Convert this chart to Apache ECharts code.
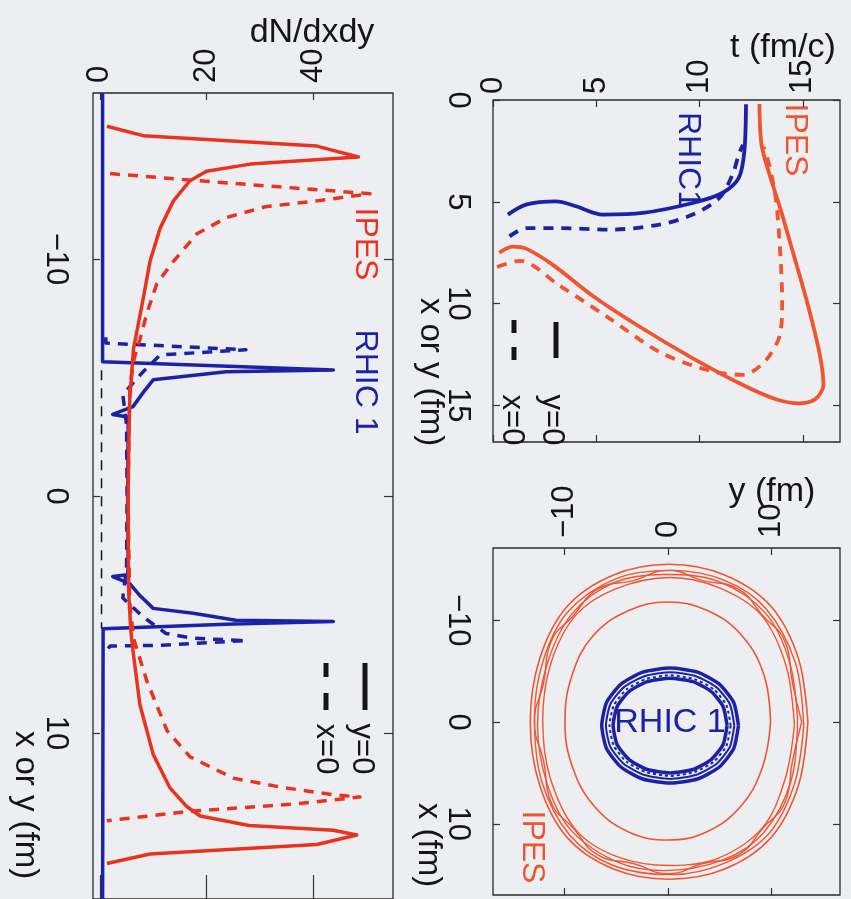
<!DOCTYPE html>
<html><head><meta charset="utf-8">
<script src="https://cdn.jsdelivr.net/npm/echarts@6/dist/echarts.min.js"></script>
<style>html,body{margin:0;padding:0;background:#eceef1;}#c{width:851px;height:899px;}</style>
</head><body><div id="c"></div>
<script>
// ---------- Panel A: dN/dxdy vs x or y ----------
var dnTicks = [0, 20, 40];
var posTicksA = [-10, 0, 10];
var ipesY0Pos = [-15.6, -15.2, -14.76, -14.3, -14.0, -13.7, -13.3, -12.45, -11.3, -9.9, -8.3, -6.9, -6.2, -4.1, -2.0, 0, 2.0, 4.1, 5.7, 6.7, 8.8, 10.9, 12.3, 13.1, 13.5, 13.9, 14.1, 14.3, 14.7, 15.1, 15.5];
var ipesY0DN  = [1.3, 8.1, 40.7, 48.5, 28.2, 20, 16.9, 13.8, 11.3, 9.4, 8.1, 6.9, 6.3, 5.6, 5.4, 5.3, 5.3, 5.4, 5.8, 6.3, 7.5, 10, 13.1, 16.3, 18.8, 28, 43.8, 48.2, 40.7, 9.4, 1.3];
var ipesX0Pos = [-13.6, -13.3, -12.75, -12.45, -12.2, -11.75, -11.06, -9.9, -8.97, -7.7, -6.6, -5.7, -4.5, -2.0, 0, 2.0, 4.5, 6.0, 7.8, 9.9, 11.0, 11.9, 12.3, 12.6, 12.7, 13.0, 13.3, 13.7];
var ipesX0DN  = [1.9, 18.5, 50.7, 40.7, 31, 23.8, 18.2, 13.8, 10.7, 8.8, 7.5, 6.3, 5.6, 5.4, 5.3, 5.4, 5.6, 6.3, 8.8, 12.6, 16.9, 25, 34.4, 43.8, 48.8, 36.3, 16.9, 1.3];
var rhicY0Pos = [-17, -5.66, -5.32, -5.24, -4.9, -4.36, -3.77, -3.44, -3.33, -3.0, 0, 3.0, 3.32, 3.4, 3.7, 4.2, 4.74, 4.95, 5.24, 5.29, 5.4, 5.6, 17];
var rhicY0DN  = [0.5, 0.5, 43.8, 23.7, 10, 8.1, 6.2, 2.4, 5.2, 5.3, 5.2, 5.3, 5.2, 2.4, 5.6, 7.5, 10, 17.5, 25.5, 43.8, 25, 0.6, 0.5];
var rhicX0Pos = [-6.7, -6.45, -6.17, -5.95, -5.24, -4.28, -3.0, 0, 3.0, 4.3, 5.1, 5.8, 6.0, 6.1, 6.3, 6.33, 6.7];
var rhicX0DN  = [1.1, 1.1, 27.4, 11.3, 8.1, 4.3, 5.0, 5.1, 5.0, 4.3, 8.1, 12.4, 17.5, 27.4, 11.3, 1.9, 0.6];
var refPos = [-5.3, 5.6];
var refDN  = [0.3, 0.3];

// ---------- Panel B: t vs x or y ----------
var tTicks = [0, 5, 10, 15];
var posTicksB = [0, 5, 10, 15];
var bIpesY0T   = [0.3, 0.95, 1.6, 2.9, 4.8, 7.2, 9.7, 12.1, 13.7, 14.8, 15.6, 16.0, 15.8, 15.2, 14.5, 13.9, 13.4, 13.0, 12.9];
var bIpesY0Pos = [7.5, 7.2, 7.3, 8.1, 9.6, 11.2, 12.7, 14.0, 14.7, 14.9, 14.7, 14.0, 12.4, 9.9, 7.4, 5.3, 3.7, 2.2, 0.2];
var bIpesX0T   = [0.2, 1.3, 3.2, 5.6, 8.1, 10.5, 12.1, 13.2, 13.9, 14.0, 13.9, 13.7, 13.4, 13.1];
var bIpesX0Pos = [8.2, 7.9, 9.1, 10.7, 12.4, 13.3, 13.5, 12.8, 11.5, 9.9, 7.4, 4.9, 3.3, 2.3];
var bRhicY0T   = [0.72, 1.6, 3.06, 4.02, 5.31, 7.25, 9.67, 11.1, 11.9, 12.17, 12.25];
var bRhicY0Pos = [5.63, 5.14, 4.98, 5.22, 5.63, 5.55, 5.06, 4.57, 3.83, 2.51, 0.21];
var bRhicX0T   = [0.8, 1.6, 3.2, 5.64, 8.06, 9.67, 10.96, 11.6, 11.9, 12.1];
var bRhicX0Pos = [6.7, 6.29, 6.29, 6.37, 6.12, 5.63, 4.81, 3.66, 2.68, 2.2];

// ---------- Panel C: contours, points as [y, x] ----------
var yTicksC = [-10, 0, 10];
var xTicksC = [-10, 0, 10];
var ipesRing1 = [[13.5,0],[12.6,6.2],[9.95,11.35],[5.46,14.45],[0.1,15.45],[-5.26,14.45],[-9.75,11.35],[-12.4,6.2],[-13.3,0],[-12.4,-6.2],[-9.75,-11.35],[-5.26,-14.45],[0.1,-15.5],[5.46,-14.45],[9.95,-11.35],[12.6,-6.2]];
var ipesRing2 = [[13.1,0.4],[12.2,6.1],[9.7,11.0],[5.4,13.9],[0.4,15.0],[-5.3,14.1],[-9.5,11.1],[-12.2,5.8],[-12.9,-0.5],[-12.0,-6.2],[-9.6,-10.9],[-5.0,-14.1],[0.4,-14.9],[5.5,-13.9],[9.4,-11.2],[12.3,-5.8]];
var ipesRing3 = [[12.5,-0.3],[11.9,5.7],[9.2,10.9],[5.2,13.6],[-0.4,14.6],[-4.8,13.8],[-9.4,10.6],[-11.7,6.0],[-12.6,0.3],[-11.7,-5.6],[-9.3,-10.6],[-5.2,-13.7],[-0.3,-14.5],[4.9,-13.8],[9.4,-10.7],[11.7,-6.0]];
var ipesRing4 = [[12.2,0.3],[11.3,5.6],[9.1,10.4],[4.8,13.4],[0.2,14.1],[-5.0,13.2],[-8.9,10.6],[-11.4,5.4],[-12.1,-0.2],[-11.3,-5.8],[-8.9,-10.5],[-5.0,-13.1],[0.2,-14.2],[4.9,-13.2],[9.0,-10.5],[11.4,-5.5]];
var ipesWavy  = [[12.9,0],[12.0,3.9],[11.35,7.75],[9.1,10.5],[6.7,13.1],[3.35,13.9],[0,14.9],[-3.35,13.9],[-6.7,13.1],[-9.1,10.5],[-11.35,7.75],[-12.0,3.9],[-12.9,0],[-12.0,-3.9],[-11.35,-7.75],[-9.1,-10.5],[-6.7,-13.1],[-3.35,-13.9],[0,-14.9],[3.35,-13.9],[6.7,-13.1],[9.1,-10.5],[11.35,-7.75],[12.0,-3.9]];
var ipesRing5 = [[9.9,0],[9.1,4.5],[7.0,8.3],[3.7,10.8],[0,11.6],[-3.8,10.8],[-7.1,8.3],[-9.2,4.5],[-9.95,0],[-9.3,-4.5],[-7.3,-8.4],[-3.9,-10.9],[0,-11.8],[3.9,-10.9],[7.2,-8.4],[9.3,-4.5]];
var rhicRing1 = [[6.8,0.35],[6.34,2.61],[4.95,4.42],[2.84,5.6],[0.2,6.0],[-2.44,5.6],[-4.55,4.42],[-5.94,2.61],[-6.4,0.35],[-5.94,-1.91],[-4.55,-3.72],[-2.44,-4.9],[0.2,-5.3],[2.84,-4.9],[4.95,-3.72],[6.34,-1.91]];
var rhicRing2 = [[6.4,0.35],[5.97,2.45],[4.66,4.13],[2.68,5.2],[0.2,5.6],[-2.28,5.2],[-4.26,4.13],[-5.57,2.45],[-6.0,0.35],[-5.57,-1.75],[-4.26,-3.43],[-2.28,-4.5],[0.2,-4.9],[2.68,-4.5],[4.66,-3.43],[5.97,-1.75]];
var rhicRing3 = [[6.05,0.35],[5.64,2.33],[4.41,3.91],[2.54,4.92],[0.2,5.3],[-2.14,4.92],[-4.01,3.91],[-5.24,2.33],[-5.65,0.35],[-5.24,-1.63],[-4.01,-3.21],[-2.14,-4.22],[0.2,-4.6],[2.54,-4.22],[4.41,-3.21],[5.64,-1.63]];
var rhicRing4 = [[5.7,0.35],[5.32,2.21],[4.16,3.7],[2.4,4.67],[0.2,5.0],[-2.0,4.67],[-3.76,3.7],[-4.92,2.21],[-5.3,0.35],[-4.92,-1.51],[-3.76,-3.0],[-2.0,-3.97],[0.2,-4.3],[2.4,-3.97],[4.16,-3.0],[5.32,-1.51]];

// ---------- styling ----------
var FONT = '"Liberation Sans", Arial, Helvetica, sans-serif';
var RED_A = '#e8331f', RED_B = '#ef5530', BLUE = '#1b22a6', INK = '#151515';
function zip(a, b) { return a.map(function (v, i) { return [v, b[i]]; }); }
function closed(r) { return r.concat([r[0]]); }
function minus(v) { return String(v).replace('-', '\u2212'); }

function axis(grid, position, min, max, ticks, showLabel, tickLen, inverse, margin) {
  return {
    type: 'value', gridIndex: grid, position: position, min: min, max: max, inverse: !!inverse,
    axisLine: { show: false, onZero: false }, splitLine: { show: false },
    axisTick: { show: true, inside: true, length: tickLen, customValues: ticks, lineStyle: { color: '#333', width: 1.2 } },
    axisLabel: { show: showLabel, customValues: ticks, rotate: -90, margin: margin || 8, fontSize: 31, color: INK, fontFamily: FONT, formatter: minus }
  };
}
function line(xi, yi, data, color, width, dash, smooth) {
  return { type: 'line', xAxisIndex: xi, yAxisIndex: yi, data: data, showSymbol: false, symbol: 'none', smooth: smooth || false,
    silent: true, animation: false,
    lineStyle: { color: color, width: width, type: dash || 'solid', cap: 'butt', join: 'round' } };
}
function rtext(x, y, s, color, size, rot) {
  return { type: 'text', x: x, y: y, rotation: rot === undefined ? -Math.PI / 2 : rot, silent: true,
    style: { text: s, fill: color, font: size + 'px ' + FONT, textAlign: 'center', textVerticalAlign: 'middle' } };
}
function seg(x1, y1, x2, y2) {
  return { type: 'line', silent: true, shape: { x1: x1, y1: y1, x2: x2, y2: y2 },
    style: { stroke: INK, lineWidth: 5 } };
}

var DASH = [10, 8];
var chart = echarts.init(document.getElementById('c'), null, { renderer: 'canvas' });
var gridStyle = { show: true, borderColor: '#2a2a2a', borderWidth: 1.3, backgroundColor: 'transparent', containLabel: false };
var series = [
  line(0, 0, zip(refDN, refPos), INK, 1.5, DASH),
  line(0, 0, zip(rhicY0DN, rhicY0Pos), BLUE, 3.5),
  line(0, 0, zip(rhicX0DN, rhicX0Pos), BLUE, 3.5, DASH),
  line(0, 0, zip(ipesY0DN, ipesY0Pos), RED_A, 3.5),
  line(0, 0, zip(ipesX0DN, ipesX0Pos), RED_A, 3.5, DASH),
  line(2, 2, zip(bIpesY0T, bIpesY0Pos), RED_B, 3.8, null, 0.3),
  line(2, 2, zip(bIpesX0T, bIpesX0Pos), RED_B, 3.8, DASH, 0.3),
  line(2, 2, zip(bRhicY0T, bRhicY0Pos), BLUE, 3.8, null, 0.3),
  line(2, 2, zip(bRhicX0T, bRhicX0Pos), BLUE, 3.8, DASH, 0.3),
  line(4, 4, closed(ipesRing1), RED_B, 1.6, null, 0.35),
  line(4, 4, closed(ipesRing2), RED_B, 1.4, null, 0.35),
  line(4, 4, closed(ipesRing3), RED_B, 1.4, null, 0.35),
  line(4, 4, closed(ipesRing4), RED_B, 1.4, null, 0.35),
  line(4, 4, closed(ipesWavy), RED_B, 1.4, null, 0.5),
  line(4, 4, closed(ipesRing5), RED_B, 1.6, null, 0.4),
  line(4, 4, closed(rhicRing1), BLUE, 3.5, null, 0.2),
  line(4, 4, closed(rhicRing2), BLUE, 2, null, 0.2),
  line(4, 4, closed(rhicRing3), BLUE, 2, [3, 3], 0.2),
  line(4, 4, closed(rhicRing4), BLUE, 3.5, null, 0.2)
];

chart.setOption({
  backgroundColor: '#eceef1',
  animation: false,
  grid: [
    Object.assign({ left: 93, top: 93, width: 300, height: 810 }, gridStyle),
    Object.assign({ left: 493, top: 100, width: 347, height: 342 }, gridStyle),
    Object.assign({ left: 493, top: 548, width: 347, height: 347 }, gridStyle)
  ],
  xAxis: [
    axis(0, 'top', -1.3, 55, dnTicks, true, 7, false, 10),
    axis(0, 'bottom', -1.3, 55, dnTicks, false, 24),
    axis(1, 'top', 0, 16.8, tTicks, true, 7, false, 6),
    axis(1, 'bottom', 0, 16.8, tTicks, false, 7),
    axis(2, 'top', -16.9, 16.6, yTicksC, true, 7, false, 10),
    axis(2, 'bottom', -16.9, 16.6, yTicksC, false, 7)
  ],
  yAxis: [
    axis(0, 'left', -17, 17, posTicksA, true, 7, true, 22),
    axis(0, 'right', -17, 17, posTicksA, false, 9, true),
    axis(1, 'left', 0, 16.8, posTicksB, true, 7, true, 20),
    axis(1, 'right', 0, 16.8, posTicksB, false, 7, true),
    axis(2, 'left', -17.1, 17.0, xTicksC, true, 7, true, 20),
    axis(2, 'right', -17.1, 17.0, xTicksC, false, 7, true)
  ],
  series: series,
  graphic: [
    rtext(312, 33, 'dN/dxdy', INK, 34, 0),
    rtext(783, 48, 't (fm/c)', INK, 34, 0),
    rtext(772, 492, 'y (fm)', INK, 34, 0),
    rtext(25, 805, 'x or y (fm)', INK, 33),
    rtext(430, 372, 'x or y (fm)', INK, 33),
    rtext(428, 845, 'x (fm)', INK, 33),
    rtext(365, 244, 'IPES', RED_A, 32),
    rtext(365, 382, 'RHIC 1', BLUE, 32),
    rtext(795, 140, 'IPES', RED_B, 32),
    rtext(688, 160, 'RHIC1', BLUE, 32),
    rtext(532, 847, 'IPES', RED_B, 32),
    rtext(670, 723, 'RHIC 1', BLUE, 34, 0),
    seg(365, 663, 365, 710),
    rtext(362, 749, 'y=0', INK, 31),
    seg(326, 663, 326, 677), seg(326, 693, 326, 710),
    rtext(326, 749, 'x=0', INK, 31),
    seg(556, 322, 556, 358),
    rtext(552, 420, 'y=0', INK, 31),
    seg(514, 320, 514, 333), seg(514, 347, 514, 360),
    rtext(512, 420, 'x=0', INK, 31)
  ]
});
</script></body></html>
